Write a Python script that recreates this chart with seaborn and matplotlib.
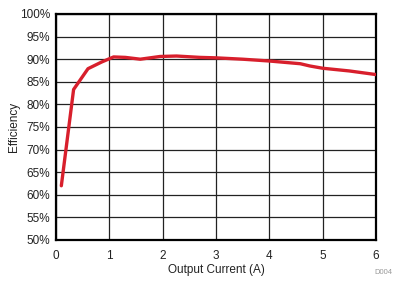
import matplotlib
matplotlib.use("Agg")
import matplotlib.pyplot as plt
import seaborn as sns
import pandas as pd
from matplotlib.ticker import FuncFormatter, MultipleLocator

current = [0.1, 0.33, 0.6, 0.86, 1.08, 1.3, 1.58, 1.95, 2.26, 2.7, 3.0, 3.5, 4.0, 4.58, 4.76, 5.0, 5.5, 6.0]
efficiency = [62.0, 83.3, 87.9, 89.4, 90.5, 90.4, 90.0, 90.6, 90.7, 90.4, 90.3, 90.0, 89.6, 89.0, 88.5, 88.0, 87.4, 86.6]

df = pd.DataFrame({"Output Current (A)": current, "Efficiency": efficiency})

sns.set_theme(style="white")
plt.rcParams['font.family'] = ['Liberation Sans', 'DejaVu Sans']

fig = plt.figure(figsize=(3.99, 2.81), dpi=100)
ax = fig.add_axes([56/399, 1 - 240/281, 320/399, 226/281])

sns.lineplot(data=df, x="Output Current (A)", y="Efficiency", ax=ax,
             color="#d81f2c", linewidth=2.4, zorder=3)

ax.set_xlim(0, 6)
ax.set_ylim(50, 100)
ax.xaxis.set_major_locator(MultipleLocator(1))
ax.yaxis.set_major_locator(MultipleLocator(5))
ax.yaxis.set_major_formatter(FuncFormatter(lambda v, p: f"{int(round(v))}%"))
ax.grid(True, color="#222222", linewidth=0.9)
for s in ax.spines.values():
    s.set_color("black")
    s.set_linewidth(1.6)
ax.tick_params(axis="both", labelsize=8.5, colors="#222222", length=0)
ax.tick_params(axis="x", pad=7)
ax.tick_params(axis="y", pad=4)
ax.set_xlabel("Output Current (A)", fontsize=8.5, color="#222222", labelpad=2)
ax.set_ylabel("Efficiency", fontsize=8.5, color="#222222", labelpad=0)

fig.text(383/399, 1 - 273/281, "D004", fontsize=5.5, color="#999999", ha="center", va="center")

fig.savefig("out.png", dpi=100)
